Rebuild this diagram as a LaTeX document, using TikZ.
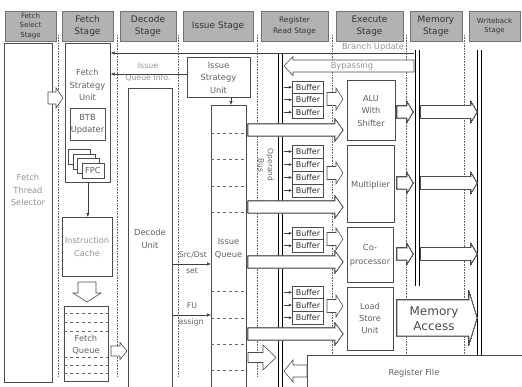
\documentclass[tikz,border=0pt]{standalone}
\usepackage{fontspec}
\setmainfont{DejaVu Sans}
\usetikzlibrary{arrows.meta}
\newcommand{\boxnode}[5]{\node[unit, anchor=north west, minimum width={#4-#2}, minimum height={#5-#3}] (#1) at (#2,#3) {};}
\newcommand{\rblock}[6]{\draw[barrow] ({#1},{#3-#4}) -- ({#2-#6},{#3-#4}) -- ({#2-#6},{#3-#5}) -- ({#2},{#3}) -- ({#2-#6},{#3+#5}) -- ({#2-#6},{#3+#4}) -- ({#1},{#3+#4}) -- cycle;}
\newcommand{\lblock}[6]{\draw[barrow] ({#1},{#3-#4}) -- ({#2+#6},{#3-#4}) -- ({#2+#6},{#3-#5}) -- ({#2},{#3}) -- ({#2+#6},{#3+#5}) -- ({#2+#6},{#3+#4}) -- ({#1},{#3+#4}) -- cycle;}
\newcommand{\dblock}[6]{\draw[barrow] ({#1-#4},{#2}) -- ({#1-#4},{#3-#6}) -- ({#1-#5},{#3-#6}) -- ({#1},{#3}) -- ({#1+#5},{#3-#6}) -- ({#1+#4},{#3-#6}) -- ({#1+#4},{#2}) -- cycle;}
\begin{document}
\begin{tikzpicture}[x=1pt,y=-1pt,
  hdr/.style={draw=black!55, fill=black!30, align=center, inner sep=0pt, text=black!80, minimum height=30, font=\fontsize{9}{12.5}\selectfont},
  hdrs/.style={hdr, font=\fontsize{7}{9.5}\selectfont},
  unit/.style={draw=black!70, fill=white, line width=0.6pt, inner sep=0pt},
  lbl/.style={align=center, inner sep=0pt, text=black!62, font=\fontsize{8.3}{12.3}\selectfont},
  lite/.style={lbl, text=black!42},
  buf/.style={draw=black!70, fill=white, line width=0.5pt, minimum width=31, inner sep=0pt, text=black!80, font=\fontsize{8}{9}\selectfont},
  sep/.style={densely dotted, draw=black!60, line width=0.6pt},
  bar/.style={line width=1.8pt},
  barrow/.style={draw=black!70, fill=white, line width=0.6pt, line join=miter},
  thinarr/.style={draw=black!75, line width=0.6pt, -{Latex[length=4pt,width=3.5pt]}},
  dashq/.style={dashed, draw=black!60, line width=0.5pt}
]
\useasboundingbox (0,0) rectangle (522,386);
% headers
\node[hdrs, minimum width=51] (hfss) at (30.5,26) {Fetch\\Select\\Stage};
\node[hdr, minimum width=51] (hfs) at (87.5,26) {Fetch\\Stage};
\node[hdr, minimum width=56] (hds) at (148,26) {Decode\\Stage};
\node[hdr, minimum width=70] (his) at (218,26) {Issue Stage};
\node[hdrs, minimum width=67, font=\fontsize{7.5}{10.5}\selectfont] (hrr) at (294.5,26) {Register\\Read Stage};
\node[hdr, minimum width=67] (hes) at (369.5,26) {Execute\\Stage};
\node[hdr, minimum width=52] (hms) at (436,26) {Memory\\Stage};
\node[hdrs, minimum width=51] (hws) at (494.5,26) {Writeback\\Stage};
% stage separators
\foreach \x in {58.5,117,178.5,257.5} \draw[sep] (\x,35) -- (\x,377);
\foreach \x in {332.5,406,464.5} \draw[sep] (\x,35) -- (\x,354);
% fetch select
\boxnode{fts}{4}{43}{52}{382}
\node[lite] (ftst) at (28,190) {Fetch\\Thread\\Selector};
% fetch stage
\boxnode{fsu}{65}{43}{110}{182}
\node[lbl] (fsut) at (87.5,85) {Fetch\\Strategy\\Unit};
\boxnode{btb}{70}{108}{105}{140}
\node[lbl] (btbt) at (87.5,124) {BTB\\Updater};
\foreach \i/\dx in {1/0,2/4.5,3/9,4/13.5}
  \node[unit, anchor=north west, minimum width=22, minimum height=15] (fpc\i) at (68+\dx,149+\dx) {};
\node[lbl] (fpct) at (fpc4) {FPC};
\boxnode{ic}{62}{217}{112}{276}
\node[lite] (ict) at (87,247) {Instruction\\Cache};
\dblock{87}{282}{302}{9}{14}{9}
\boxnode{fq}{64}{306}{108}{381}
\foreach \y in {313,322,331,357,365,373} \draw[dashq] (64,\y) -- (108,\y);
\node[lbl] (fqt) at (86,345) {Fetch\\Queue};
\rblock{48}{63}{98}{6}{10}{7}
\rblock{111}{127}{351}{5}{8.5}{7}
% decode
\boxnode{dec}{128}{88}{172}{392}
\node[lbl] (dect) at (150,239) {Decode\\Unit};
\node[lite, font=\fontsize{7.8}{12}\selectfont] (iqi) at (148,72) {Issue\\Queue Info.};
% issue stage
\boxnode{isu}{187}{57}{250}{97}
\node[lbl] (isut) at (218.5,78) {Issue\\Strategy\\Unit};
\boxnode{iq}{211}{105}{246}{392}
\foreach \y in {133,159,186,212,291,318,344,370} \draw[dashq] (211,\y) -- (246,\y);
\node[lbl] (iqt) at (228.5,248.5) {Issue\\Queue};
\coordinate (c1) at (187,74);
\draw[thinarr] (c1) -- (c1 -| fsu.east);
\coordinate (ia) at (231,97);
\draw[thinarr] (ia) -- (ia |- iq.north);
\draw[thinarr] (fsu.south) -- (fsu.south |- ic.north);
\coordinate (sd) at (0,264);
\coordinate (fu) at (0,315);
\draw[thinarr] (dec.east |- sd) -- (iq.west |- sd);
\draw[thinarr] (dec.east |- fu) -- (iq.west |- fu);
\node[lbl, font=\fontsize{7.8}{9}\selectfont] (sdt) at (193,255) {Src/Dst};
\node[lbl, font=\fontsize{7.8}{9}\selectfont] (sdt2) at (192,271) {set};
\node[lbl, font=\fontsize{7.8}{9}\selectfont] (fut) at (192,306) {FU};
\node[lbl, font=\fontsize{7.8}{9}\selectfont] (fut2) at (191,322) {assign};
% bars
\draw[bar] (278.5,53) -- (278.5,392);
\draw[bar] (282.5,53) -- (282.5,392);
\draw[bar] (415.5,50) -- (415.5,286);
\draw[bar] (419.5,50) -- (419.5,286);
\draw[bar] (477.5,50) -- (477.5,355);
\draw[bar] (481.5,50) -- (481.5,355);
\coordinate (rb) at (283.5,0);
% branch update & bypassing
\coordinate (bu) at (414,53);
\draw[thinarr] (bu) -- (bu -| fsu.east);
\node[lite, anchor=south] (but) at (373,51.5) {Branch Update};
\lblock{414}{284}{66}{6}{9.5}{9}
\node[lite] (byt) at (352,66.5) {Bypassing};
\node[lbl, text=black!60, rotate=-90, font=\fontsize{7.5}{9.5}\selectfont] (opb) at (266,165) {Operand\\Bus};
% buffers
\foreach \n/\y/\h in {a1/87.25/12.5,a2/99.75/12.5,a3/112.25/12.5,m1/151.5/13,m2/164.5/13,m3/177.5/13,m4/190.5/13,c1/233.25/12.5,c2/245.75/12.5,l1/292.35/12.7,l2/305.05/12.7,l3/317.75/12.7}{
  \node[buf, minimum height=\h] (b\n) at (308,\y) {Buffer};
  \draw[thinarr, -{Latex[length=3.5pt,width=3pt]}] (b\n.west -| rb) -- (b\n.west);
}
% execute units
\boxnode{alu}{347}{80}{395}{140}
\node[lbl] (alut) at (371,111) {ALU\\With\\Shifter};
\boxnode{mul}{347}{145}{394}{222}
\node[lbl] (mult) at (370.5,185) {Multiplier};
\boxnode{cop}{347}{227}{393}{282}
\node[lbl, font=\fontsize{8.3}{14}\selectfont] (copt) at (370,255) {Co-\\processor};
\boxnode{lsu}{347}{287}{393}{350}
\node[lbl] (lsut) at (370,318.5) {Load\\Store\\Unit};
% buffer -> unit arrows
\foreach \y in {99,173,239,306} \rblock{327}{343}{\y}{6.5}{11}{7}
% issue queue -> execute arrows
\foreach \y in {130,207,262,334} \rblock{248}{343}{\y}{6}{11}{8}
% execute -> memory, memory -> writeback
\foreach \y in {112,183,254} {\rblock{397}{413}{\y}{6}{10}{6} \rblock{420.5}{477}{\y}{6.5}{10}{6}}
\rblock{397}{477}{318}{18}{26}{8}
\node[lbl, text=black!70, font=\fontsize{12}{15}\selectfont] (mat) at (434,319) {Memory\\Access};
% register file
\boxnode{rf}{307}{355}{526}{395}
\node[lbl] (rft) at (414,373) {Register File};
\rblock{248}{276}{357.5}{5}{12.5}{13}
\lblock{307}{284}{371}{6}{11}{9}
\end{tikzpicture}
\end{document}
